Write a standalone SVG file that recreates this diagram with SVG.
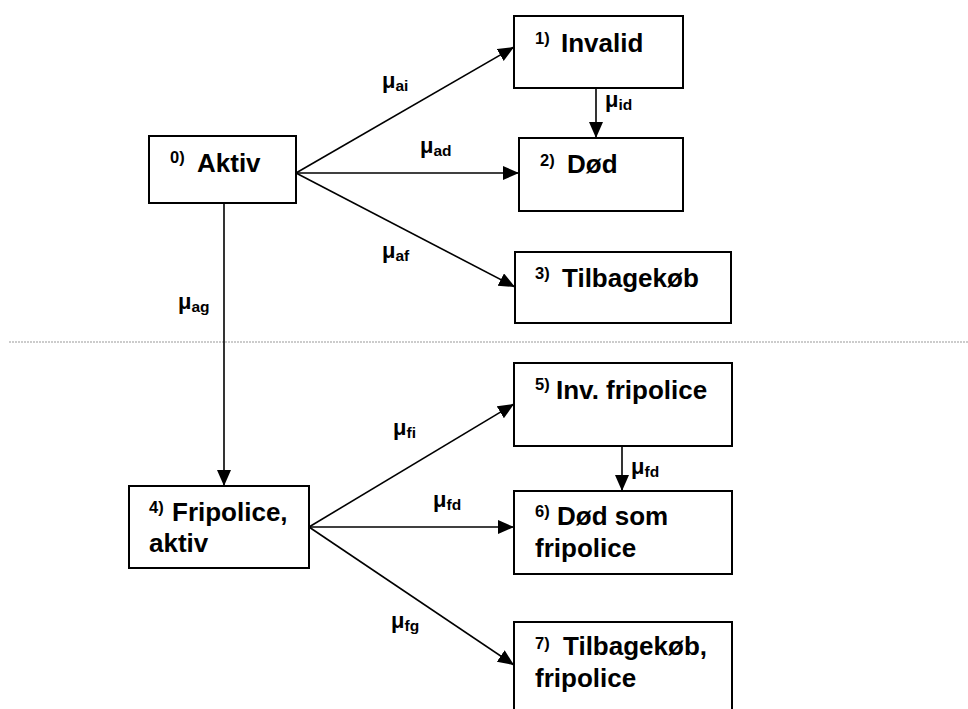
<svg xmlns="http://www.w3.org/2000/svg" width="968" height="709" viewBox="0 0 968 709">
<style>
.box{fill:#fff;stroke:#000;stroke-width:2}
.ln{fill:none;stroke:#000;stroke-width:1.6}
.t{font-family:"Liberation Sans",Arial,sans-serif;font-weight:bold;fill:#000}
.m{font-size:26px}
.s{font-size:16.5px}
.mu{font-size:22px}
.sub{font-size:15.5px}
</style>
<defs>
<marker id="ah" markerUnits="userSpaceOnUse" markerWidth="17" markerHeight="15" refX="16" refY="7" orient="auto">
<path d="M0,0 L16,7 L0,14 z" fill="#000"/>
</marker>
</defs>
<rect width="968" height="709" fill="#fff"/>
<line x1="9" y1="342" x2="968" y2="342" stroke="#999" stroke-width="1" stroke-dasharray="2,1"/>
<g id="connectors">
<line class="ln" x1="296" y1="173" x2="514" y2="47" marker-end="url(#ah)"/>
<line class="ln" x1="296" y1="173" x2="519" y2="173" marker-end="url(#ah)"/>
<line class="ln" x1="296" y1="173" x2="515" y2="287" marker-end="url(#ah)"/>
<line class="ln" x1="596" y1="88" x2="596" y2="138" marker-end="url(#ah)"/>
<line class="ln" x1="224" y1="203" x2="224" y2="486" marker-end="url(#ah)"/>
<line class="ln" x1="309" y1="527" x2="514" y2="404" marker-end="url(#ah)"/>
<line class="ln" x1="309" y1="527" x2="514" y2="527" marker-end="url(#ah)"/>
<line class="ln" x1="309" y1="527" x2="514" y2="665" marker-end="url(#ah)"/>
<line class="ln" x1="622" y1="446" x2="622" y2="491" marker-end="url(#ah)"/>
<text class="t" x="382" y="88"><tspan class="mu">μ</tspan><tspan class="sub" dy="3">ai</tspan></text>
<text class="t" x="420" y="153"><tspan class="mu">μ</tspan><tspan class="sub" dy="3">ad</tspan></text>
<text class="t" x="382" y="258"><tspan class="mu">μ</tspan><tspan class="sub" dy="3">af</tspan></text>
<text class="t" x="178" y="309"><tspan class="mu">μ</tspan><tspan class="sub" dy="3">ag</tspan></text>
<text class="t" x="605" y="107"><tspan class="mu">μ</tspan><tspan class="sub" dy="3">id</tspan></text>
<text class="t" x="393" y="435"><tspan class="mu">μ</tspan><tspan class="sub" dy="3">fi</tspan></text>
<text class="t" x="433" y="507"><tspan class="mu">μ</tspan><tspan class="sub" dy="3">fd</tspan></text>
<text class="t" x="391" y="628"><tspan class="mu">μ</tspan><tspan class="sub" dy="3">fg</tspan></text>
<text class="t" x="631" y="474"><tspan class="mu">μ</tspan><tspan class="sub" dy="3">fd</tspan></text>
</g>
<g id="n0">
<rect class="box" x="149" y="136" width="147" height="67"/>
<text class="t s" x="170" y="163">0)</text>
<text class="t m" x="197" y="172">Aktiv</text>
</g>
<g id="n1">
<rect class="box" x="514" y="16" width="169" height="72"/>
<text class="t s" x="535" y="44">1)</text>
<text class="t m" x="561" y="52">Invalid</text>
</g>
<g id="n2">
<rect class="box" x="519" y="138" width="164" height="73"/>
<text class="t s" x="540" y="166">2)</text>
<text class="t m" x="567" y="173">Død</text>
</g>
<g id="n3">
<rect class="box" x="515" y="252" width="216" height="71"/>
<text class="t s" x="535" y="279">3)</text>
<text class="t m" x="562" y="287">Tilbagekøb</text>
</g>
<g id="n4">
<rect class="box" x="129" y="486" width="180" height="82"/>
<text class="t s" x="149" y="513">4)</text>
<text class="t m" x="172" y="521">Fripolice,</text>
<text class="t m" x="149" y="552">aktiv</text>
</g>
<g id="n5">
<rect class="box" x="514" y="363" width="218" height="83"/>
<text class="t s" x="535" y="390">5)</text>
<text class="t m" x="556" y="399">Inv. fripolice</text>
</g>
<g id="n6">
<rect class="box" x="514" y="491" width="218" height="83"/>
<text class="t s" x="535" y="517">6)</text>
<text class="t m" x="557" y="525">Død som</text>
<text class="t m" x="535" y="557">fripolice</text>
</g>
<g id="n7">
<rect class="box" x="514" y="622" width="218" height="95"/>
<text class="t s" x="535" y="649">7)</text>
<text class="t m" x="563" y="655">Tilbagekøb,</text>
<text class="t m" x="535" y="687">fripolice</text>
</g>
</svg>
